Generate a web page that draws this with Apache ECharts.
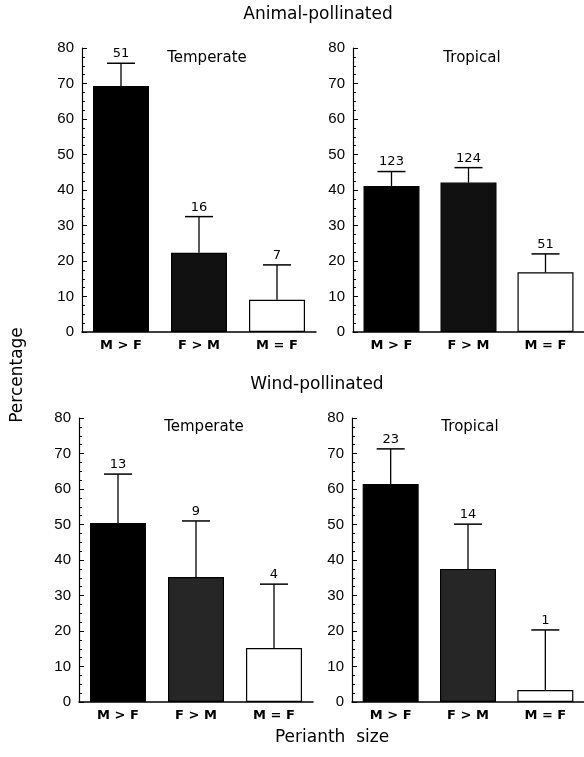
<!DOCTYPE html>
<html>
<head>
<meta charset="utf-8">
<script src="https://cdn.jsdelivr.net/npm/echarts@6/dist/echarts.min.js"></script>
<style>
html,body{margin:0;padding:0;background:#fff;}
#chart{width:584px;height:757px;}
</style>
</head>
<body>
<div id="chart"></div>
<script>
// ---- data ----
const categories = ['M > F', 'F > M', 'M = F'];
const yTicks = [0, 10, 20, 30, 40, 50, 60, 70, 80];

const animalTemperateMean = [69.3, 22.3, 9.1];
const animalTemperateUpper = [75.7, 32.5, 18.9];
const animalTemperateN = [51, 16, 7];

const animalTropicalMean = [41.1, 42.1, 16.8];
const animalTropicalUpper = [45.2, 46.3, 22];
const animalTropicalN = [123, 124, 51];

const windTemperateMean = [50.4, 35.2, 15.2];
const windTemperateUpper = [64.2, 51, 33.2];
const windTemperateN = [13, 9, 4];

const windTropicalMean = [61.4, 37.5, 3.4];
const windTropicalUpper = [71.3, 50.1, 20.3];
const windTropicalN = [23, 14, 1];

// ---- layout / style ----
const NUMFONT = 'Liberation Sans';
const FONT = 'DejaVu Sans';
const panels = [
  {mean: animalTemperateMean, upper: animalTemperateUpper, n: animalTemperateN, grid: {left: 82, top: 48, width: 234, height: 284}, mid: '#111111'},
  {mean: animalTropicalMean, upper: animalTropicalUpper, n: animalTropicalN, grid: {left: 353, top: 48, width: 232, height: 284}, mid: '#111111'},
  {mean: windTemperateMean, upper: windTemperateUpper, n: windTemperateN, grid: {left: 79, top: 418, width: 234, height: 284}, mid: '#262626'},
  {mean: windTropicalMean, upper: windTropicalUpper, n: windTropicalN, grid: {left: 352, top: 418, width: 232, height: 284}, mid: '#262626'}
];

const grids = [], xAxes = [], yAxes = [], series = [];
panels.forEach((p, i) => {
  grids.push(Object.assign({containLabel: false}, p.grid));
  xAxes.push({
    type: 'category', gridIndex: i, data: categories,
    axisLine: {lineStyle: {color: '#000', width: 1.5}},
    axisTick: {show: false},
    axisLabel: {color: '#000', fontFamily: FONT, fontSize: 13, fontWeight: 'bold', margin: 7}
  });
  yAxes.push({
    type: 'value', gridIndex: i, min: yTicks[0], max: yTicks[yTicks.length - 1], interval: 10,
    axisLine: {show: true, lineStyle: {color: '#000', width: 1.2}},
    axisTick: {show: true, inside: true, length: 5, lineStyle: {color: '#000'}},
    minorTick: {show: true, splitNumber: 4, length: 3, lineStyle: {color: '#000'}},
    splitLine: {show: false},
    axisLabel: {color: '#000', fontFamily: NUMFONT, fontSize: 15, margin: 8}
  });
  const colors = ['#000000', p.mid, '#ffffff'];
  series.push({
    type: 'bar', xAxisIndex: i, yAxisIndex: i, barWidth: 56,
    data: p.mean.map((v, k) => ({value: v, itemStyle: {color: colors[k], borderColor: '#000', borderWidth: 1.2}})),
    z: 2
  });
  series.push({
    type: 'custom', xAxisIndex: i, yAxisIndex: i, z: 3,
    data: p.mean.map((v, k) => [k, v, p.upper[k], p.n[k]]),
    encode: {x: 0, y: [1, 2]},
    renderItem: function (params, api) {
      const base = api.coord([api.value(0), api.value(1)]);
      const top = api.coord([api.value(0), api.value(2)]);
      const half = 14;
      return {
        type: 'group',
        children: [
          {type: 'line', shape: {x1: base[0], y1: base[1], x2: base[0], y2: top[1]}, style: {stroke: '#000', lineWidth: 1.3}},
          {type: 'line', shape: {x1: base[0] - half, y1: top[1], x2: base[0] + half, y2: top[1]}, style: {stroke: '#000', lineWidth: 1.5}},
          {type: 'text', x: base[0], y: top[1] - 3, style: {text: String(api.value(3)), fill: '#000', font: '13px ' + FONT, textAlign: 'center', textVerticalAlign: 'bottom'}}
        ]
      };
    }
  });
});

const txt = (text, x, y, size, extra) => Object.assign({
  type: 'text', x: x, y: y,
  style: {text: text, fill: '#000', font: size + 'px ' + FONT, textAlign: 'center', textVerticalAlign: 'middle'}
}, extra || {});

const chart = echarts.init(document.getElementById('chart'));
chart.setOption({
  animation: false,
  backgroundColor: '#fff',
  grid: grids,
  xAxis: xAxes,
  yAxis: yAxes,
  series: series,
  graphic: [
    txt('Animal-pollinated', 318, 15, 17),
    txt('Wind-pollinated', 317, 385, 17),
    txt('Temperate', 207, 58, 15),
    txt('Tropical', 472, 58, 15),
    txt('Temperate', 204, 427, 15),
    txt('Tropical', 470, 427, 15),
    txt('Perianth  size', 332, 738, 17),
    txt('Percentage', 18, 375, 17, {rotation: Math.PI / 2})
  ]
});
</script>
</body>
</html>
